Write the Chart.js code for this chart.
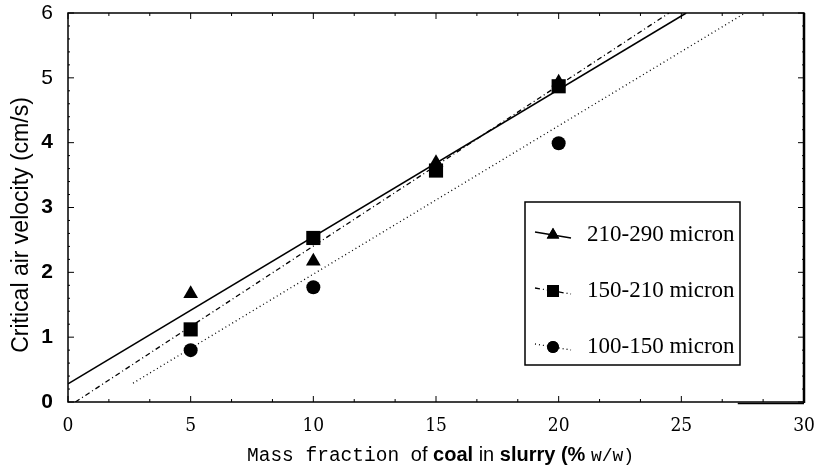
<!DOCTYPE html>
<html>
<head>
<meta charset="utf-8">
<script src="https://cdn.jsdelivr.net/npm/chart.js@4/dist/chart.umd.min.js"></script>
<style>
  body { margin: 0; background: #fff; }
  canvas { display: block; }
</style>
</head>
<body>
<canvas id="myChart" width="816" height="469"></canvas>
<script>
// data
let labels = ['210-290 micron', '150-210 micron', '100-150 micron'];
let fraction = [5, 10, 15, 20];
let fraction100 = [5, 10, 20];
let v210 = [1.67, 2.17, 3.69, 4.93];
let v150 = [1.12, 2.53, 3.57, 4.87];
let v100 = [0.80, 1.77, 3.99];

// fitted lines (end points)
let fit210X = [0, 25.2];
let fit210Y = [0.28, 6];
let fit150X = [0.3, 24.5];
let fit150Y = [0, 6];
let fit100X = [2.65, 27.6];
let fit100Y = [0.29, 6];

let xTicks = [0, 5, 10, 15, 20, 25, 30];
let yTicks = [0, 1, 2, 3, 4, 5, 6];

function pts(xs, ys) {
  let out = [];
  for (let i = 0; i < xs.length; i++) out.push({x: xs[i], y: ys[i]});
  return out;
}

const markers = ['triangle', 'rect', 'circle'];
const radii = [8.5, 10, 7];
const dashes = [[], [5, 3, 1, 3], [1, 3]];

const data = {
  datasets: [
    {label: labels[0], data: pts(fraction, v210), pointStyle: markers[0], pointRadius: radii[0], showLine: false},
    {label: labels[1], data: pts(fraction, v150), pointStyle: markers[1], pointRadius: radii[1], showLine: false},
    {label: labels[2], data: pts(fraction100, v100), pointStyle: markers[2], pointRadius: radii[2], showLine: false},
    {label: 'fit1', data: pts(fit210X, fit210Y), showLine: true, pointRadius: 0, borderWidth: 1.6, borderDash: dashes[0]},
    {label: 'fit2', data: pts(fit150X, fit150Y), showLine: true, pointRadius: 0, borderWidth: 1.3, borderDash: dashes[1]},
    {label: 'fit3', data: pts(fit100X, fit100Y), showLine: true, pointRadius: 0, borderWidth: 1.3, borderDash: dashes[2]}
  ].map(d => Object.assign({backgroundColor: '#000', borderColor: '#000', pointBorderWidth: 0}, d))
};

// frame, inner ticks, legend box and the axis titles
const extras = {
  id: 'extras',
  afterDraw(chart) {
    const ctx = chart.ctx;
    const a = chart.chartArea;
    const xs = chart.scales.x, ys = chart.scales.y;
    ctx.save();
    ctx.strokeStyle = '#000';
    ctx.lineWidth = 1.5;
    ctx.strokeRect(a.left, a.top, a.right - a.left, a.bottom - a.top);
    // heavier right edge and the little extra stroke under the axis at the end
    ctx.lineWidth = 2.5;
    ctx.beginPath();
    ctx.moveTo(a.right, a.top); ctx.lineTo(a.right, a.bottom + 1);
    ctx.stroke();
    ctx.lineWidth = 1.5;
    ctx.beginPath();
    ctx.moveTo(xs.getPixelForValue(27.3), a.bottom + 1.5);
    ctx.lineTo(a.right, a.bottom + 1.5);
    ctx.stroke();

    ctx.lineWidth = 1;
    ctx.beginPath();
    for (let i = 0; i <= 18; i++) {
      let px = xs.getPixelForValue(i * 5 / 3);
      let len = i % 3 === 0 ? 6 : 3;
      ctx.moveTo(px, a.top); ctx.lineTo(px, a.top + len);
      ctx.moveTo(px, a.bottom); ctx.lineTo(px, a.bottom - len);
    }
    for (let i = 0; i <= 30; i++) {
      let py = ys.getPixelForValue(i * 0.2);
      let len = i % 5 === 0 ? 6 : 2;
      ctx.moveTo(a.left, py); ctx.lineTo(a.left + len, py);
      ctx.moveTo(a.right, py); ctx.lineTo(a.right - len, py);
    }
    ctx.stroke();

    // legend
    const bx = 525, by = 202;
    const bw = 215, bh = 163;
    ctx.lineWidth = 1.5;
    ctx.strokeRect(bx, by, bw, bh);
    ctx.font = '23px "Liberation Serif", serif';
    ctx.textBaseline = 'middle';
    ctx.fillStyle = '#000';
    for (let i = 0; i < 3; i++) {
      const ds = chart.data.datasets[i];
      const line = chart.data.datasets[i + 3];
      const ry = by + 33 + i * 56;
      ctx.beginPath();
      ctx.lineWidth = line.borderWidth;
      ctx.setLineDash(line.borderDash);
      ctx.moveTo(bx + 10, ry - 3);
      ctx.lineTo(bx + 46, ry + 3);
      ctx.stroke();
      ctx.setLineDash([]);
      Chart.helpers.drawPoint(ctx, {pointStyle: ds.pointStyle, radius: ds.pointRadius * 0.85, borderWidth: 0}, bx + 28, ry);
      ctx.fill();
      ctx.fillText(ds.label, bx + 62, ry);
    }

    // y title
    ctx.save();
    ctx.translate(22, 225);
    ctx.rotate(-Math.PI / 2);
    ctx.textAlign = 'center';
    ctx.font = '23px "Liberation Sans", Arial, sans-serif';
    ctx.fillText('Critical air velocity (cm/s)', 0, 0);
    ctx.restore();

    // x title, mixed fonts as in the original
    const parts = [
      ['Mass fraction ', '19.5px "Liberation Mono", monospace'],
      ['of ', '20px "Liberation Sans", sans-serif'],
      ['coal ', 'bold 20px "Liberation Sans", sans-serif'],
      ['in ', '20px "Liberation Sans", sans-serif'],
      ['slurry (% ', 'bold 20px "Liberation Sans", sans-serif'],
      ['w/w)', '18px "Liberation Mono", monospace']
    ];
    let cx = 247;
    ctx.textAlign = 'left';
    ctx.textBaseline = 'alphabetic';
    parts.forEach(p => {
      ctx.font = p[1];
      ctx.fillText(p[0], cx, 461);
      cx += ctx.measureText(p[0]).width;
    });
    ctx.restore();
  }
};

const config = {
  type: 'scatter',
  data: data,
  options: {
    responsive: false,
    animation: false,
    devicePixelRatio: 1,
    layout: {padding: {top: 13, right: 12, left: 0, bottom: 0}},
    plugins: {legend: {display: false}, tooltip: {enabled: false}},
    scales: {
      x: {
        type: 'linear', min: 0, max: 30,
        afterBuildTicks: s => { s.ticks = xTicks.map(v => ({value: v})); },
        afterFit: s => { s.height = 67; s.paddingRight = 0; s.paddingLeft = 0; },
        grid: {display: false},
        border: {display: false},
        ticks: {
          color: '#000', padding: 5, maxRotation: 0,
          font: {family: '"DejaVu Serif Condensed", "Liberation Serif", serif', size: 19}
        }
      },
      y: {
        type: 'linear', min: 0, max: 6,
        afterBuildTicks: s => { s.ticks = yTicks.map(v => ({value: v})); },
        afterFit: s => { s.width = 68; s.paddingTop = 0; s.paddingBottom = 0; },
        grid: {display: false},
        border: {display: false},
        ticks: {
          color: '#000', padding: 7,
          font: ctx => ({
            family: '"Liberation Sans", Arial, sans-serif', size: 21,
            weight: (ctx.tick && ctx.tick.value >= 5) ? 'normal' : 'bold'
          })
        }
      }
    }
  },
  plugins: [extras]
};

const myChart = new Chart(document.getElementById('myChart'), config);
</script>
</body>
</html>
